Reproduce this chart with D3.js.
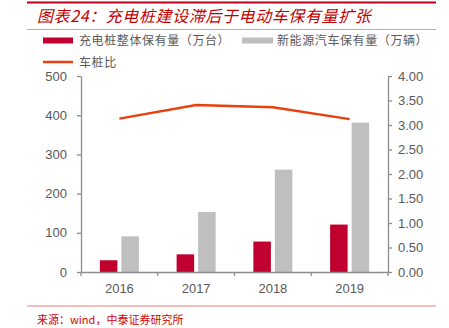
<!DOCTYPE html>
<html><head><meta charset="utf-8">
<script src="https://cdn.jsdelivr.net/npm/d3@7"></script>
<style>body{margin:0;background:#fff}svg{display:block}</style>
</head><body>
<script>
const categories = ["2016","2017","2018","2019"];
const pileValues = [30, 45, 77.7, 121];          // 充电桩整体保有量（万台）
const evValues = [91, 153, 261, 381];            // 新能源汽车保有量（万辆）
const ratioValues = [3.13, 3.41, 3.36, 3.12];    // 车桩比
const leftTicks = [0,100,200,300,400,500];
const rightTicks = [0,0.5,1,1.5,2,2.5,3,3.5,4];
const seriesNames = ["充电桩整体保有量（万台）","新能源汽车保有量（万辆）","车桩比"];
const titleText = "图表24：充电桩建设滞后于电动车保有量扩张";
const sourceText = "来源：wind，中泰证券研究所";

const W = 449, H = 328;
const svg = d3.select("body").append("svg").attr("width", W).attr("height", H);
const cjk = "'Noto Sans CJK SC', sans-serif";
const latin = "'Liberation Sans', Arial, sans-serif";

// header lines
svg.append("line").attr("x1",27).attr("x2",436).attr("y1",2.5).attr("y2",2.5).attr("stroke","#b8001e").attr("stroke-width",2);
svg.append("text").attr("x",37).attr("y",22).attr("fill","#c00000").attr("font-family",cjk)
  .attr("font-size",16).attr("font-style","italic").attr("letter-spacing",0.6).text(titleText);
svg.append("line").attr("x1",27).attr("x2",436).attr("y1",29.5).attr("y2",29.5).attr("stroke","#e89a9a").attr("stroke-width",1);

// scales
const x = d3.scaleBand().domain(categories).range([81,388]);
const yL = d3.scaleLinear().domain([0,500]).range([272,76]);
const yR = d3.scaleLinear().domain([0,4]).range([272,76]);
const barW = 17.5, gap = 4;

// bars
const g = svg.append("g");
g.selectAll(".pile").data(categories).join("rect")
  .attr("x", d => x(d) + x.bandwidth()/2 - gap/2 - barW)
  .attr("y", (d,i) => yL(pileValues[i]))
  .attr("width", barW).attr("height", (d,i) => yL(0) - yL(pileValues[i]))
  .attr("fill", "#c0002f");
g.selectAll(".ev").data(categories).join("rect")
  .attr("x", d => x(d) + x.bandwidth()/2 + gap/2)
  .attr("y", (d,i) => yL(evValues[i]))
  .attr("width", barW).attr("height", (d,i) => yL(0) - yL(evValues[i]))
  .attr("fill", "#bfbfbf");

// line
const line = d3.line().x((d,i) => x(categories[i]) + x.bandwidth()/2).y(d => yR(d));
svg.append("path").datum(ratioValues).attr("d", line).attr("fill","none")
  .attr("stroke","#e8400f").attr("stroke-width",2.5);

// axes
const axisColor = "#8c8c8c", textColor = "#595959";
function styleAxis(sel){
  sel.select(".domain").attr("stroke", axisColor).attr("stroke-width",1.3);
  sel.selectAll(".tick line").attr("stroke", axisColor).attr("stroke-width",1.3);
  sel.selectAll("text").attr("fill", textColor).attr("font-family", latin).attr("font-size", 13);
}
const left = svg.append("g").attr("transform","translate(81,0)")
  .call(d3.axisLeft(yL).tickValues(leftTicks).tickSize(4).tickSizeOuter(0).tickPadding(10).tickFormat(d3.format("d")));
styleAxis(left);
const right = svg.append("g").attr("transform","translate(388,0)")
  .call(d3.axisRight(yR).tickValues(rightTicks).tickSize(4).tickSizeOuter(0).tickPadding(6).tickFormat(d3.format(".2f")));
styleAxis(right);
const bottom = svg.append("g").attr("transform","translate(0,272)")
  .call(d3.axisBottom(x).tickSize(0).tickPadding(12));
styleAxis(bottom);
// band-boundary ticks
bottom.selectAll(".bt").data([81, ...categories.map(c => x(c) + x.bandwidth())]).join("line")
  .attr("x1", d => d).attr("x2", d => d).attr("y1", 0).attr("y2", 4)
  .attr("stroke", axisColor).attr("stroke-width", 1.3);

// legend
const lg = svg.append("g").attr("font-family", cjk).attr("font-size", 12).attr("fill", textColor);
lg.append("rect").attr("x",43).attr("y",37.5).attr("width",30).attr("height",6).attr("fill","#c0002f");
lg.append("text").attr("x",79).attr("y",45).attr("letter-spacing",0.6).text(seriesNames[0]);
lg.append("rect").attr("x",242).attr("y",37.5).attr("width",31).attr("height",6).attr("fill","#bfbfbf");
lg.append("text").attr("x",277).attr("y",45).attr("letter-spacing",0.6).text(seriesNames[1]);
lg.append("line").attr("x1",43).attr("x2",73).attr("y1",62).attr("y2",62).attr("stroke","#e8400f").attr("stroke-width",2.5);
lg.append("text").attr("x",79).attr("y",66.5).attr("letter-spacing",0.6).text(seriesNames[2]);

// footer
svg.append("line").attr("x1",27).attr("x2",436).attr("y1",306).attr("y2",306).attr("stroke","#e88080").attr("stroke-width",1);
svg.append("text").attr("x",37).attr("y",324).attr("fill","#d40000").attr("font-family",cjk)
  .attr("font-size",11).text(sourceText);
</script>
</body></html>
